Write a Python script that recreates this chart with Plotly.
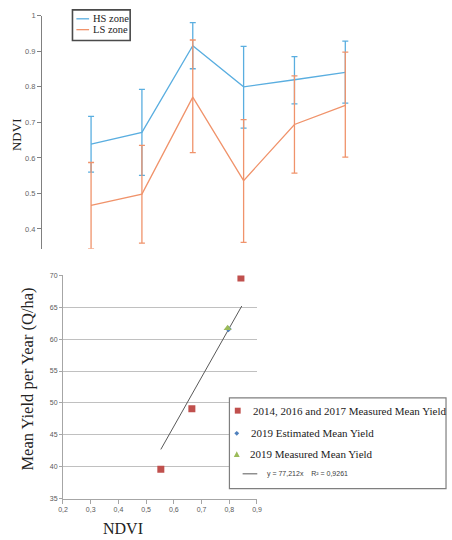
import plotly.graph_objects as go

W, H = 452, 540

# ---------------- data: top chart ----------------
periods = [1, 2, 3, 4, 5, 6]
hs_mean = [0.639, 0.672, 0.916, 0.800, 0.820, 0.841]
hs_upper = [0.717, 0.793, 0.981, 0.914, 0.885, 0.929]
hs_lower = [0.560, 0.551, 0.851, 0.684, 0.752, 0.754]
ls_mean = [0.466, 0.498, 0.771, 0.536, 0.694, 0.748]
ls_upper = [0.587, 0.635, 0.932, 0.708, 0.831, 0.898]
ls_lower = [0.344, 0.360, 0.615, 0.362, 0.557, 0.602]
top_yticks = [0.4, 0.5, 0.6, 0.7, 0.8, 0.9, 1.0]
top_yticktext = ["0.4", "0.5", "0.6", "0.7", "0.8", "0.9", "1"]

# ---------------- data: bottom chart ----------------
measured_ndvi = [0.553, 0.665, 0.842]
measured_yield = [39.6, 49.1, 69.6]
est2019_ndvi = [0.797]
est2019_yield = [61.6]
meas2019_ndvi = [0.794]
meas2019_yield = [61.7]
trend_ndvi = [0.553, 0.845]
trend_yield = [42.7, 65.2]
bot_xticks = [0.2, 0.3, 0.4, 0.5, 0.6, 0.7, 0.8, 0.9]
bot_xticktext = ["0,2", "0,3", "0,4", "0,5", "0,6", "0,7", "0,8", "0,9"]
bot_yticks = [35, 40, 45, 50, 55, 60, 65, 70]

legend_top = ["HS zone", "LS zone"]
legend_bottom = ["2014, 2016 and 2017 Measured Mean Yield",
                 "2019 Estimated Mean Yield",
                 "2019 Measured Mean Yield",
                 "y = 77,212x\u00a0\u00a0\u00a0\u00a0R\u00b2 = 0,9261"]

HS_C = "#5aaee0"
LS_C = "#f0936b"
RED = "#c0504d"
BLUE = "#4f81bd"
GREEN = "#9bbb59"
SERIF = "Liberation Serif, Times New Roman, serif"
SANS = "Liberation Sans, Arial, sans-serif"


def px(x):
    return x / W


def py(y):
    return 1 - y / H


fig = go.Figure()

for mean, up, lo, col, name in [(hs_mean, hs_upper, hs_lower, HS_C, legend_top[0]),
                                (ls_mean, ls_upper, ls_lower, LS_C, legend_top[1])]:
    fig.add_trace(go.Scatter(
        x=periods, y=mean, mode="lines", name=name,
        line=dict(color=col, width=1.3),
        error_y=dict(type="data", symmetric=False,
                     array=[u - m for u, m in zip(up, mean)],
                     arrayminus=[m - l for m, l in zip(mean, lo)],
                     color=col, thickness=1.3, width=3),
        xaxis="x", yaxis="y", showlegend=False, cliponaxis=False))

fig.add_trace(go.Scatter(x=trend_ndvi, y=trend_yield, mode="lines",
                         line=dict(color="#595959", width=1), name=legend_bottom[3],
                         xaxis="x2", yaxis="y2", showlegend=False))
fig.add_trace(go.Scatter(x=measured_ndvi, y=measured_yield, mode="markers",
                         marker=dict(symbol="square", size=7, color=RED),
                         name=legend_bottom[0], xaxis="x2", yaxis="y2", showlegend=False))
fig.add_trace(go.Scatter(x=est2019_ndvi, y=est2019_yield, mode="markers",
                         marker=dict(symbol="diamond", size=5, color=BLUE),
                         name=legend_bottom[1], xaxis="x2", yaxis="y2", showlegend=False))
fig.add_trace(go.Scatter(x=meas2019_ndvi, y=meas2019_yield, mode="markers",
                         marker=dict(symbol="triangle-up", size=7, color=GREEN),
                         name=legend_bottom[2], xaxis="x2", yaxis="y2", showlegend=False))

shapes = []
annotations = []

# top legend
shapes.append(dict(type="rect", xref="paper", yref="paper", x0=px(69), x1=px(128), y0=py(37), y1=py(6),
                   line=dict(color="#4a4a4a", width=1.6), fillcolor="white", layer="above"))
for i, (txt, col) in enumerate(zip(legend_top, [HS_C, LS_C])):
    yy = 15 + i * 11
    shapes.append(dict(type="line", xref="paper", yref="paper", x0=px(73), x1=px(86), y0=py(yy), y1=py(yy),
                       line=dict(color=col, width=1.3), layer="above"))
    annotations.append(dict(text=txt, xref="paper", yref="paper", x=px(88), y=py(yy), xanchor="left",
                            yanchor="middle", showarrow=False, font=dict(family=SERIF, size=10.5, color="#222")))

# bottom legend
shapes.append(dict(type="rect", xref="paper", yref="paper", x0=px(229.5), x1=px(451), y0=py(491), y1=py(399),
                   line=dict(color="#7f7f7f", width=1.2), fillcolor="white", layer="above"))
shapes.append(dict(type="rect", xref="paper", yref="paper", x0=px(235), x1=px(241), y0=py(415), y1=py(409),
                   line=dict(width=0), fillcolor=RED, layer="above"))
shapes.append(dict(type="path", xref="paper", yref="paper",
                   path=f"M {px(237)} {py(432.5)} L {px(239.5)} {py(435)} L {px(237)} {py(437.5)} L {px(234.5)} {py(435)} Z",
                   line=dict(width=0), fillcolor=BLUE, layer="above"))
shapes.append(dict(type="path", xref="paper", yref="paper",
                   path=f"M {px(237)} {py(453)} L {px(240)} {py(459)} L {px(234)} {py(459)} Z",
                   line=dict(width=0), fillcolor=GREEN, layer="above"))
shapes.append(dict(type="line", xref="paper", yref="paper", x0=px(243), x1=px(258), y0=py(476), y1=py(476),
                   line=dict(color="#595959", width=1), layer="above"))
for txt, xx, yy in [(legend_bottom[0], 252, 412), (legend_bottom[1], 250, 435), (legend_bottom[2], 249, 456)]:
    annotations.append(dict(text=txt, xref="paper", yref="paper", x=px(xx), y=py(yy), xanchor="left",
                            yanchor="middle", showarrow=False, font=dict(family=SERIF, size=11, color="#222")))
annotations.append(dict(text=legend_bottom[3], xref="paper", yref="paper", x=px(266), y=py(476), xanchor="left",
                        yanchor="middle", showarrow=False, font=dict(family=SANS, size=7, color="#404040")))

# axis titles
annotations.append(dict(text="NDVI", xref="paper", yref="paper", x=px(12), y=py(132), textangle=-90,
                        xanchor="center", yanchor="middle",
                        showarrow=False, font=dict(family=SERIF, size=13, color="#222")))
annotations.append(dict(text="Mean Yield per Year (Q/ha)", xref="paper", yref="paper", x=px(23), y=py(380),
                        xanchor="center", yanchor="middle",
                        textangle=-90, showarrow=False, font=dict(family=SERIF, size=16.5, color="#222")))
annotations.append(dict(text="NDVI", xref="paper", yref="paper", x=px(121), y=py(531),
                        xanchor="center", yanchor="middle",
                        showarrow=False, font=dict(family=SERIF, size=16, color="#222")))

fig.update_layout(
    width=W, height=H, margin=dict(l=0, r=0, t=0, b=0),
    paper_bgcolor="white", plot_bgcolor="white", showlegend=False,
    xaxis=dict(domain=[px(38), px(400)], range=[0.038, 7.0], visible=False, anchor="y"),
    yaxis=dict(domain=[py(248), py(12)], range=[0.344, 1.0], anchor="x",
               showline=True, linecolor="#808080", linewidth=1.2,
               ticks="outside", ticklen=4, tickcolor="#808080",
               tickvals=top_yticks, ticktext=top_yticktext, showgrid=False, zeroline=False,
               tickfont=dict(family=SANS, size=7.5, color="#666")),
    xaxis2=dict(domain=[px(59.3), px(257.7)], range=[0.2, 0.9], anchor="y2",
                showline=True, linecolor="#a6a6a6", linewidth=1,
                ticks="outside", ticklen=4, tickcolor="#a6a6a6",
                tickvals=bot_xticks, ticktext=bot_xticktext, showgrid=False, zeroline=False,
                tickfont=dict(family=SANS, size=7, color="#595959")),
    yaxis2=dict(domain=[py(501), py(275)], range=[35, 70], anchor="x2",
                showline=True, linecolor="#a6a6a6", linewidth=1,
                ticks="outside", ticklen=3, tickcolor="#a6a6a6",
                tickvals=bot_yticks, showgrid=True, gridcolor="#c0c0c0", gridwidth=1, zeroline=False,
                tickfont=dict(family=SANS, size=7, color="#595959")),
    shapes=shapes, annotations=annotations,
)

fig.write_html("out.html", config={"displayModeBar": False},
               post_script="document.body.style.margin='0';document.body.style.overflow='hidden';")
